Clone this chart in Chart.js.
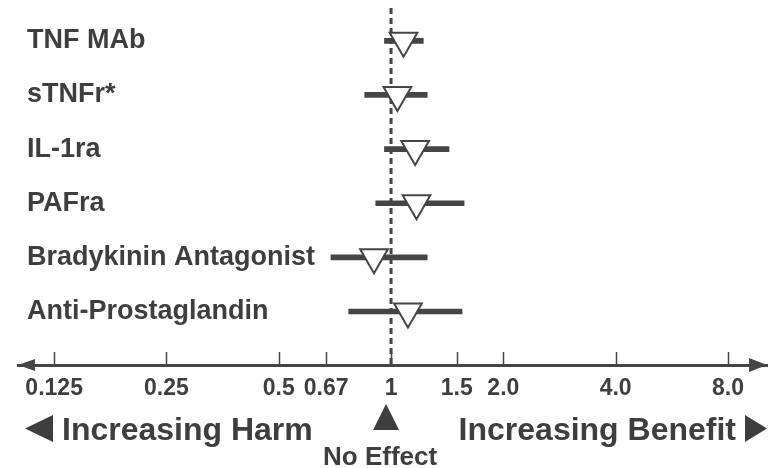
<!DOCTYPE html>
<html><head><meta charset="utf-8">
<script src="https://cdn.jsdelivr.net/npm/chart.js@4"></script>
<style>html,body{margin:0;padding:0;background:#fff}canvas{display:block}</style>
</head><body>
<canvas id="c" width="768" height="468"></canvas>
<script>
const categories = ['TNF MAb','sTNFr*','IL-1ra','PAFra','Bradykinin Antagonist','Anti-Prostaglandin'];
const estimates = [1.08, 1.04, 1.16, 1.17, 0.90, 1.11];
const lowerCI   = [0.96, 0.85, 0.96, 0.91, 0.69, 0.77];
const upperCI   = [1.22, 1.25, 1.43, 1.57, 1.25, 1.55];
const tickValues = [0.125, 0.25, 0.5, 0.67, 1, 1.5, 2, 4, 8];
const tickLabels = ['0.125','0.25','0.5','0.67','1','1.5','2.0','4.0','8.0'];
const noEffectValue = 1;
const harmLabel = 'Increasing Harm';
const benefitLabel = 'Increasing Benefit';
const noEffectLabel = 'No Effect';

const INK = '#454545';
const TEXT = '#3e3e3e';
const Y_MIN = -0.606, Y_MAX = 5.988;

const decor = {
  id: 'decor',
  afterDraw(chart) {
    const ctx = chart.ctx, xs = chart.scales.x, a = chart.chartArea;
    const yb = a.bottom;
    ctx.save();
    ctx.strokeStyle = INK; ctx.fillStyle = INK; ctx.lineWidth = 1.5;
    // upward tick marks
    tickValues.forEach(v => {
      const px = Math.round(xs.getPixelForValue(v)) + 0.5;
      ctx.beginPath(); ctx.moveTo(px, yb - 13); ctx.lineTo(px, yb); ctx.stroke();
    });
    // arrowheads
    ctx.beginPath(); ctx.moveTo(a.left, yb); ctx.lineTo(a.left + 17, yb - 6); ctx.lineTo(a.left + 17, yb + 6); ctx.closePath(); ctx.fill();
    ctx.beginPath(); ctx.moveTo(a.right, yb); ctx.lineTo(a.right - 18, yb - 7); ctx.lineTo(a.right - 18, yb + 7); ctx.closePath(); ctx.fill();
    // harm / benefit labels
    ctx.fillStyle = TEXT;
    ctx.beginPath(); ctx.moveTo(25, 428.5); ctx.lineTo(53, 415); ctx.lineTo(53, 442); ctx.closePath(); ctx.fill();
    ctx.beginPath(); ctx.moveTo(745, 415); ctx.lineTo(745, 442); ctx.lineTo(767, 428.5); ctx.closePath(); ctx.fill();
    ctx.font = 'bold 32px "Liberation Sans", Arial, sans-serif';
    ctx.textBaseline = 'alphabetic';
    ctx.textAlign = 'left'; ctx.fillText(harmLabel, 62, 440);
    ctx.textAlign = 'right'; ctx.fillText(benefitLabel, 736, 440);
    // no effect marker
    const nx = xs.getPixelForValue(noEffectValue) - 5;
    ctx.beginPath(); ctx.moveTo(nx - 13, 430); ctx.lineTo(nx + 13, 430); ctx.lineTo(nx, 404); ctx.closePath(); ctx.fill();
    ctx.font = 'bold 26px "Liberation Sans", Arial, sans-serif';
    ctx.textAlign = 'center'; ctx.fillText(noEffectLabel, nx - 6, 465);
    ctx.restore();
  }
};

new Chart(document.getElementById('c'), {
  type: 'scatter',
  data: {
    datasets: [
      {
        type: 'scatter',
        label: 'Estimate',
        data: estimates.map((v, i) => ({x: v, y: i})),
        pointStyle: 'triangle',
        rotation: 180,
        pointRadius: 16,
        pointHoverRadius: 16,
        backgroundColor: '#ffffff',
        borderColor: INK,
        borderWidth: 2,
        clip: false,
        order: 0
      },
      {
        type: 'bar',
        label: 'CI',
        indexAxis: 'y',
        data: lowerCI.map((lo, i) => ({x: [lo, upperCI[i]], y: i})),
        backgroundColor: INK,
        borderWidth: 0,
        borderSkipped: false,
        barThickness: 5,
        order: 1
      },
      {
        type: 'line',
        label: 'No effect',
        data: [{x: noEffectValue, y: Y_MIN}, {x: noEffectValue, y: Y_MAX}],
        borderColor: INK,
        borderWidth: 3,
        borderDash: [6, 4],
        pointRadius: 0,
        fill: false,
        order: 2
      }
    ]
  },
  options: {
    responsive: false,
    devicePixelRatio: 1,
    animation: false,
    events: [],
    layout: {autoPadding: false, padding: {left: 18, right: 1, top: 8, bottom: 66}},
    plugins: {legend: {display: false}, tooltip: {enabled: false}},
    scales: {
      x: {
        type: 'logarithmic',
        position: 'bottom',
        offset: false,
        min: 0.1,
        max: 10.18,
        afterBuildTicks: s => { s.ticks = tickValues.map(v => ({value: v})); },
        afterFit: s => { s.paddingLeft = 0; s.paddingRight = 0; s.height = 37; },
        ticks: {
          autoSkip: false, maxRotation: 0, minRotation: 0, padding: 10,
          color: TEXT,
          font: {family: '"Liberation Sans", Arial, sans-serif', size: 23, weight: 'bold'},
          callback: (v, i) => tickLabels[i]
        },
        grid: {display: true, offset: false, drawOnChartArea: false, drawTicks: false},
        border: {display: true, color: INK, width: 3}
      },
      y: {
        type: 'linear',
        reverse: true,
        offset: false,
        bounds: 'data',
        min: Y_MIN,
        max: Y_MAX,
        afterBuildTicks: s => { s.ticks = categories.map((c, i) => ({value: i})); },
        afterFit: s => { s.width = 0; s.paddingTop = 0; s.paddingBottom = 0; },
        ticks: {
          mirror: true, padding: 9, autoSkip: false,
          color: TEXT,
          font: {family: '"Liberation Sans", Arial, sans-serif', size: 27, weight: 'bold'},
          callback: (v, i) => categories[i]
        },
        grid: {display: false, offset: false, drawTicks: false},
        border: {display: false}
      }
    }
  },
  plugins: [decor]
});
</script>
</body></html>
